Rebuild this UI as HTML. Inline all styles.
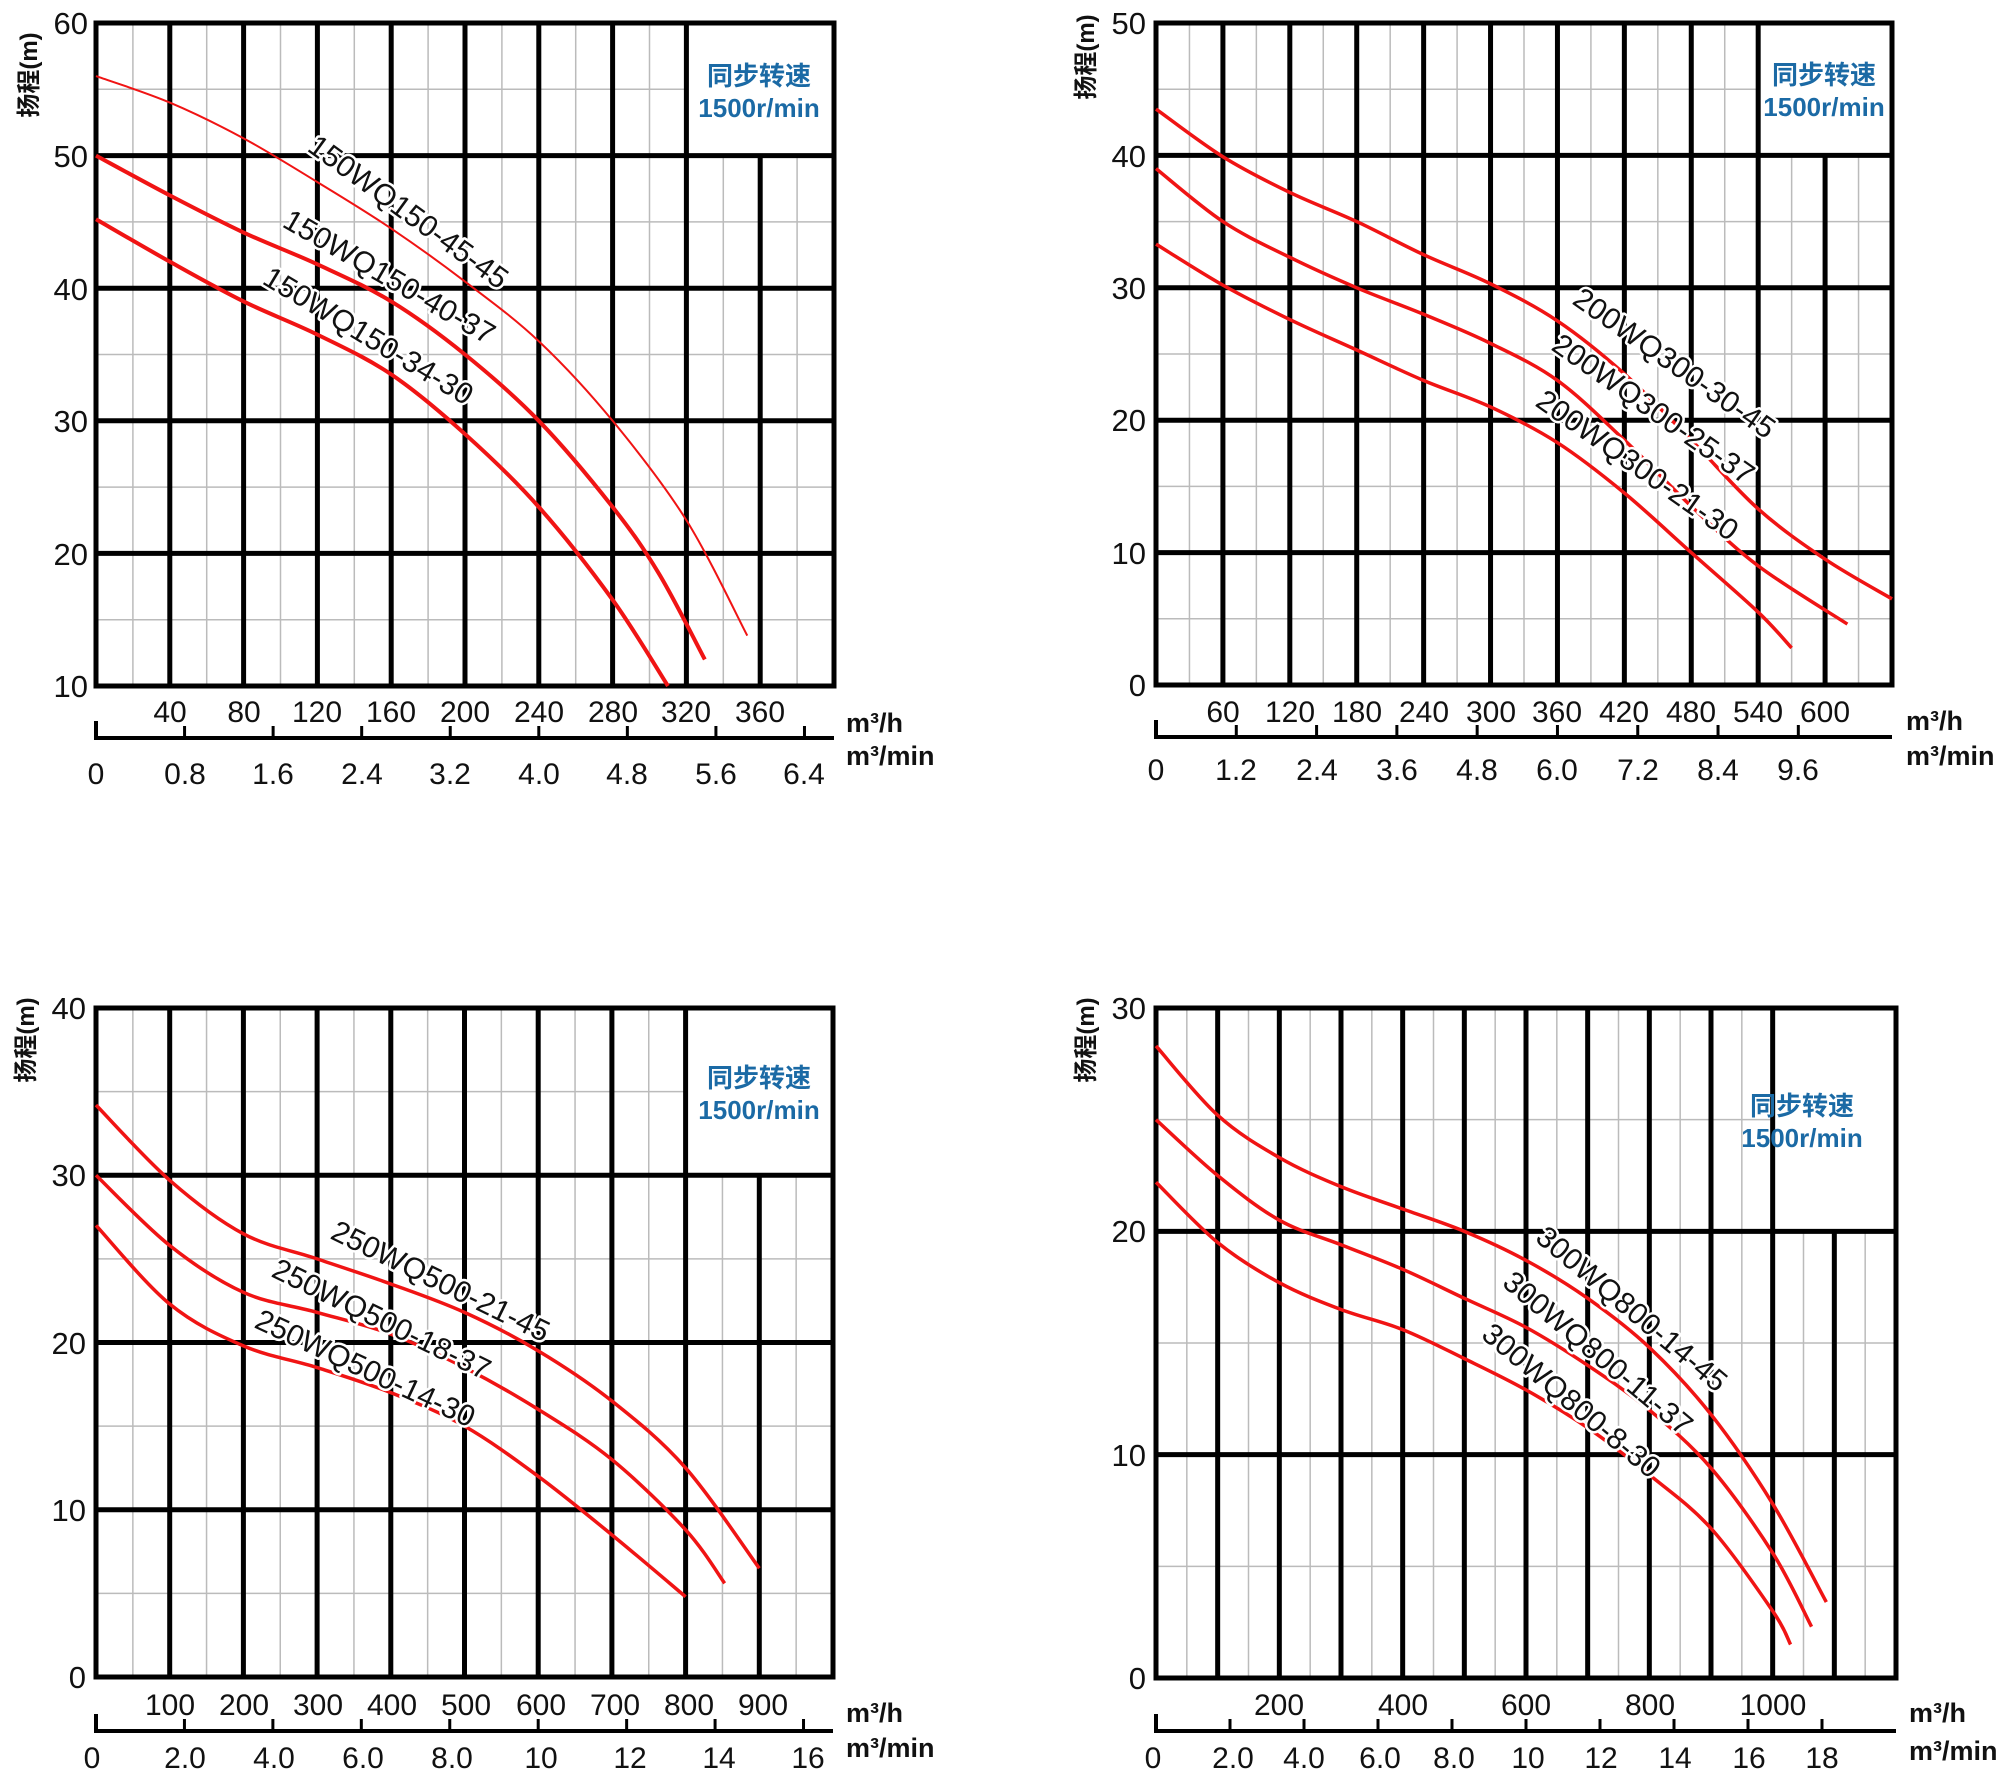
<!DOCTYPE html>
<html><head><meta charset="utf-8"><style>
html,body{margin:0;padding:0;background:#fff;}
svg{display:block;}
text{font-family:"Liberation Sans","Noto Sans CJK SC",sans-serif;fill:#111;}
.n{font-size:30px;}
.ny{font-size:31px;text-anchor:end;}
.c{text-anchor:middle;}
.u{font-size:27px;font-weight:bold;}
.lg{font-size:26px;font-weight:bold;fill:#1b6aa5;text-anchor:middle;}
.yl{font-size:24px;font-weight:bold;}
.cv{font-size:30px;stroke:#fff;stroke-width:5px;paint-order:stroke;stroke-linejoin:round;}
</style></head><body>
<svg id="s" width="2000" height="1772" viewBox="0 0 2000 1772" xmlns="http://www.w3.org/2000/svg">
<g id="g"></g>
<!-- Panel 1 -->
<g>
<text class="ny" x="88" y="34">60</text><text class="ny" x="88" y="167">50</text><text class="ny" x="88" y="300">40</text><text class="ny" x="88" y="432">30</text><text class="ny" x="88" y="565">20</text><text class="ny" x="88" y="697">10</text>
<text class="yl" transform="translate(37,75) rotate(-90)" text-anchor="middle">扬程(m)</text>
<g class="n c">
<text x="170" y="722">40</text><text x="244" y="722">80</text><text x="317" y="722">120</text><text x="391" y="722">160</text><text x="465" y="722">200</text><text x="539" y="722">240</text><text x="613" y="722">280</text><text x="686" y="722">320</text><text x="760" y="722">360</text>
<text x="96" y="784">0</text><text x="185" y="784">0.8</text><text x="273" y="784">1.6</text><text x="362" y="784">2.4</text><text x="450" y="784">3.2</text><text x="539" y="784">4.0</text><text x="627" y="784">4.8</text><text x="716" y="784">5.6</text><text x="804" y="784">6.4</text>
</g>
<text class="u" x="846" y="732">m³/h</text><text class="u" x="846" y="765">m³/min</text>
<text class="lg" x="759" y="85">同步转速</text><text class="lg" x="759" y="117">1500r/min</text>
</g>
<!-- Panel 2 -->
<g>
<text class="ny" x="1146" y="34">50</text><text class="ny" x="1146" y="167">40</text><text class="ny" x="1146" y="299">30</text><text class="ny" x="1146" y="431">20</text><text class="ny" x="1146" y="564">10</text><text class="ny" x="1146" y="696">0</text>
<text class="yl" transform="translate(1094,57) rotate(-90)" text-anchor="middle">扬程(m)</text>
<g class="n c">
<text x="1223" y="722">60</text><text x="1290" y="722">120</text><text x="1357" y="722">180</text><text x="1424" y="722">240</text><text x="1491" y="722">300</text><text x="1557" y="722">360</text><text x="1624" y="722">420</text><text x="1691" y="722">480</text><text x="1758" y="722">540</text><text x="1825" y="722">600</text>
<text x="1156" y="780">0</text><text x="1236" y="780">1.2</text><text x="1317" y="780">2.4</text><text x="1397" y="780">3.6</text><text x="1477" y="780">4.8</text><text x="1557" y="780">6.0</text><text x="1638" y="780">7.2</text><text x="1718" y="780">8.4</text><text x="1798" y="780">9.6</text>
</g>
<text class="u" x="1906" y="730">m³/h</text><text class="u" x="1906" y="765">m³/min</text>
<text class="lg" x="1824" y="84">同步转速</text><text class="lg" x="1824" y="116">1500r/min</text>
</g>
<!-- Panel 3 -->
<g>
<text class="ny" x="86" y="1019">40</text><text class="ny" x="86" y="1186">30</text><text class="ny" x="86" y="1354">20</text><text class="ny" x="86" y="1521">10</text><text class="ny" x="86" y="1688">0</text>
<text class="yl" transform="translate(34,1040) rotate(-90)" text-anchor="middle">扬程(m)</text>
<g class="n c">
<text x="170" y="1715">100</text><text x="244" y="1715">200</text><text x="318" y="1715">300</text><text x="392" y="1715">400</text><text x="466" y="1715">500</text><text x="541" y="1715">600</text><text x="615" y="1715">700</text><text x="689" y="1715">800</text><text x="763" y="1715">900</text>
<text x="92" y="1768">0</text><text x="185" y="1768">2.0</text><text x="274" y="1768">4.0</text><text x="363" y="1768">6.0</text><text x="452" y="1768">8.0</text><text x="541" y="1768">10</text><text x="630" y="1768">12</text><text x="719" y="1768">14</text><text x="808" y="1768">16</text>
</g>
<text class="u" x="846" y="1722">m³/h</text><text class="u" x="846" y="1757">m³/min</text>
<text class="lg" x="759" y="1087">同步转速</text><text class="lg" x="759" y="1119">1500r/min</text>
</g>
<!-- Panel 4 -->
<g>
<text class="ny" x="1146" y="1019">30</text><text class="ny" x="1146" y="1242">20</text><text class="ny" x="1146" y="1466">10</text><text class="ny" x="1146" y="1689">0</text>
<text class="yl" transform="translate(1094,1040) rotate(-90)" text-anchor="middle">扬程(m)</text>
<g class="n c">
<text x="1279" y="1715">200</text><text x="1403" y="1715">400</text><text x="1526" y="1715">600</text><text x="1650" y="1715">800</text><text x="1773" y="1715">1000</text>
<text x="1153" y="1768">0</text><text x="1233" y="1768">2.0</text><text x="1304" y="1768">4.0</text><text x="1380" y="1768">6.0</text><text x="1454" y="1768">8.0</text><text x="1528" y="1768">10</text><text x="1601" y="1768">12</text><text x="1675" y="1768">14</text><text x="1749" y="1768">16</text><text x="1822" y="1768">18</text>
</g>
<text class="u" x="1909" y="1722">m³/h</text><text class="u" x="1909" y="1760">m³/min</text>
<text class="lg" x="1802" y="1115">同步转速</text><text class="lg" x="1802" y="1147">1500r/min</text>
</g>
<g id="lab">
<text class="cv" transform="translate(306,150) rotate(36)">150WQ150-45-45</text>
<text class="cv" transform="translate(281,226) rotate(30)">150WQ150-40-37</text>
<text class="cv" transform="translate(261,283) rotate(31)">150WQ150-34-30</text>
<text class="cv" transform="translate(1571,303) rotate(35)">200WQ300-30-45</text>
<text class="cv" transform="translate(1550,349) rotate(35)">200WQ300-25-37</text>
<text class="cv" transform="translate(1534,405) rotate(35)">200WQ300-21-30</text>
<text class="cv" transform="translate(329,1238) rotate(26)">250WQ500-21-45</text>
<text class="cv" transform="translate(270,1276) rotate(26)">250WQ500-18-37</text>
<text class="cv" transform="translate(253,1327) rotate(25)">250WQ500-14-30</text>
<text class="cv" transform="translate(1534,1240) rotate(40)">300WQ800-14-45</text>
<text class="cv" transform="translate(1501,1285) rotate(40)">300WQ800-11-37</text>
<text class="cv" transform="translate(1480,1337) rotate(40)">300WQ800-8-30</text>
</g>
</svg>
<script>
(function(){
var NS="http://www.w3.org/2000/svg",g=document.getElementById("g");
function el(n,a){var e=document.createElementNS(NS,n);for(var k in a)e.setAttribute(k,a[k]);g.appendChild(e);return e;}
function line(x1,y1,x2,y2,w,c){el("line",{x1:x1,y1:y1,x2:x2,y2:y2,"stroke-width":w,stroke:c||"#000"});}
var P=[
{x0:96,x1:834,y0:23,y1:686,cols:10,xc:40,ymax:60,ymin:10,bc:8,bl:50,ax:738,tk:1.2,nt:9,
 cs:[[2,[[0,56],[40,54],[80,51.3],[120,48],[160,44.5],[200,40.5],[240,36],[280,30],[320,22.5],[353,13.8]]],
     [4,[[0,50],[40,47],[80,44.2],[120,41.8],[160,39],[200,35],[240,30],[280,23.5],[305,18.5],[330,12]]],
     [4,[[0,45.2],[40,42],[80,39],[120,36.5],[160,33.5],[200,29],[240,23.5],[280,16.5],[310,10]]]]},
{x0:1156,x1:1892,y0:23,y1:685,cols:11,xc:60,ymax:50,ymin:0,bc:9,bl:40,ax:737,tk:1.2,nt:9,
 cs:[[3.5,[[0,43.5],[60,39.9],[120,37.2],[180,35],[240,32.5],[300,30.3],[360,27.5],[420,23.5],[480,18.5],[540,13.3],[600,9.5],[660,6.5]]],
     [3.5,[[0,39],[60,35],[120,32.3],[180,30],[240,28],[300,25.8],[360,23],[420,18.5],[480,13.5],[540,9],[620,4.6]]],
     [3.5,[[0,33.3],[60,30.2],[120,27.6],[180,25.3],[240,23],[300,21],[360,18.3],[420,14.5],[480,10],[540,5.5],[570,2.8]]]]},
{x0:96,x1:833,y0:1008,y1:1677,cols:10,xc:100,ymax:40,ymin:0,bc:8,bl:30,ax:1731,tk:1.2,nt:9,
 cs:[[3.5,[[0,34.2],[100,29.7],[200,26.5],[300,25],[400,23.5],[500,21.8],[600,19.5],[700,16.5],[800,12.5],[900,6.5]]],
     [3.5,[[0,30],[100,25.8],[200,23],[300,21.8],[400,20.5],[500,18.5],[600,16],[700,13],[800,8.8],[853,5.6]]],
     [3.5,[[0,27],[100,22.3],[200,19.8],[300,18.5],[400,17],[500,15],[600,12],[700,8.5],[800,4.8]]]]},
{x0:1156,x1:1896,y0:1008,y1:1678,cols:12,xc:100,ymax:30,ymin:0,bc:10,bl:20,ax:1731,tk:1.2,nt:10,
 cs:[[3.5,[[0,28.3],[100,25.2],[200,23.3],[300,22],[400,21],[500,20],[600,18.7],[700,17],[800,14.8],[900,11.8],[1000,7.8],[1087,3.4]]],
     [3.5,[[0,25],[100,22.5],[200,20.5],[300,19.4],[400,18.3],[500,17],[600,15.7],[700,14],[800,12],[900,9.4],[1000,5.6],[1063,2.3]]],
     [3.5,[[0,22.2],[100,19.5],[200,17.7],[300,16.5],[400,15.6],[500,14.3],[600,12.9],[700,11.2],[800,9.1],[900,6.7],[1000,3],[1029,1.5]]]]}
];
P.forEach(function(p){
 var cw=(p.x1-p.x0)/p.cols, sy=(p.y1-p.y0)/(p.ymax-p.ymin);
 function X(v){return p.x0+v/p.xc*cw;} function Y(v){return p.y1-(v-p.ymin)*sy;}
 var bx=p.x0+p.bc*cw, by=Y(p.bl);
 for(var i=0;i<p.cols;i++){var x=p.x0+(i+0.5)*cw; line(x, i>=p.bc?by:p.y0, x,p.y1,1.5,"#bbb");}
 for(var v=p.ymin+5;v<p.ymax;v+=10){var y=Y(v); line(p.x0,y, y<by?bx:p.x1,y,1.5,"#bbb");}
 for(var i=1;i<p.cols;i++){var x=p.x0+i*cw; line(x, i>p.bc?by:p.y0, x,p.y1,5);}
 for(var v=p.ymin+10;v<p.ymax;v+=10){var y=Y(v); line(p.x0,y,p.x1,y,5);}
 el("rect",{x:p.x0,y:p.y0,width:p.x1-p.x0,height:p.y1-p.y0,fill:"none",stroke:"#000","stroke-width":5});
 line(p.x0-2,p.ax,p.x1,p.ax,4); line(p.x0,p.ax-17,p.x0,p.ax+2,4);
 for(var k=1;k<p.nt;k++){var x=p.x0+k*p.tk*cw; line(x,p.ax-12,x,p.ax,3);}
 p.cs.forEach(function(c){
  var pts=c[1].map(function(q){return [X(q[0]),Y(q[1])];});
  var d="M"+pts[0][0]+","+pts[0][1];
  for(var i=0;i<pts.length-1;i++){
   var p0=pts[Math.max(i-1,0)],p1=pts[i],p2=pts[i+1],p3=pts[Math.min(i+2,pts.length-1)];
   d+=" C"+(p1[0]+(p2[0]-p0[0])/6)+","+(p1[1]+(p2[1]-p0[1])/6)+" "+(p2[0]-(p3[0]-p1[0])/6)+","+(p2[1]-(p3[1]-p1[1])/6)+" "+p2[0]+","+p2[1];
  }
  el("path",{d:d,fill:"none",stroke:"#f01414","stroke-width":c[0]});
 });
});
})();
</script>
</body></html>
